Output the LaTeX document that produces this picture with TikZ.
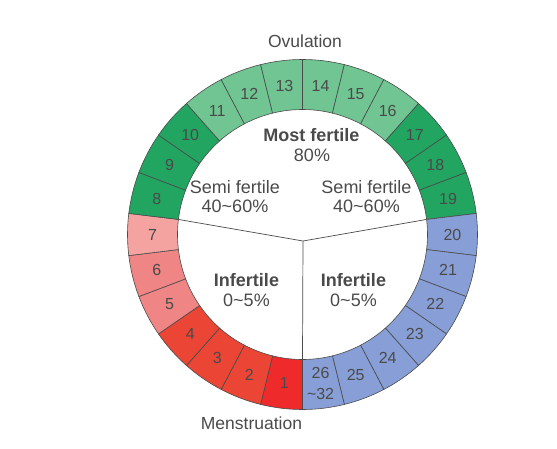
\documentclass[tikz,border=0pt]{standalone}
\usepackage{fontspec}
\setmainfont{Liberation Sans}
\usetikzlibrary{positioning}

\definecolor{redday}{HTML}{EE2A2A}
\definecolor{redmen}{HTML}{EA4535}
\definecolor{pinkA}{HTML}{F08585}
\definecolor{pinkB}{HTML}{F5A3A0}
\definecolor{greendark}{HTML}{22A560}
\definecolor{greenlight}{HTML}{70C592}
\definecolor{blueday}{HTML}{879FD6}
\definecolor{ringline}{HTML}{4A4A4A}
\definecolor{textgray}{HTML}{4A4A4A}

\tikzset{
  daynum/.style={text=textgray, font=\fontsize{16}{16}\selectfont, align=center, inner sep=0pt},
  zonelabel/.style={text=textgray, font=\fontsize{18}{20}\selectfont, align=center, inner sep=0pt},
  zonebold/.style={zonelabel, font=\fontsize{18}{20}\selectfont\bfseries},
  outerlabel/.style={zonelabel, font=\fontsize{17.5}{20}\selectfont},
  divider/.style={ringline, line width=0.7pt}
}

\begin{document}
\begin{tikzpicture}[x=1pt,y=1pt]
  \useasboundingbox (-302.5,-213.5) rectangle (254.5,234.5);

  % Ring of days
  \foreach \n/\col in {1/redday,2/redmen,3/redmen,4/redmen,5/pinkA,6/pinkA,7/pinkB,
      8/greendark,9/greendark,10/greendark,11/greenlight,12/greenlight,13/greenlight,
      14/greenlight,15/greenlight,16/greenlight,17/greendark,18/greendark,19/greendark,
      20/blueday,21/blueday,22/blueday,23/blueday,24/blueday,25/blueday,26/blueday} {
    \pgfmathsetmacro{\a}{-90-(\n-1)*360/26}
    \pgfmathsetmacro{\b}{\a-360/26}
    \filldraw[fill=\col, draw=ringline, line width=0.6pt]
      (\a:175) arc[start angle=\a, end angle=\b, radius=175]
      -- (\b:125) arc[start angle=\b, end angle=\a, radius=125] -- cycle;
  }

  % Day numbers
  \foreach \n in {1,...,25} {
    \pgfmathsetmacro{\m}{-90-(\n-0.5)*360/26}
    \node[daynum] (day\n) at (\m:150) {\n};
  }
  \node[daynum, font=\fontsize{16}{21}\selectfont] (day26) at ({-90-25.5*360/26}:150) {26\\\textasciitilde32};

  % Dividers
  \coordinate (hub) at (0.5,-6.5);
  \coordinate (leftend) at ({-90-7*360/26}:125);
  \coordinate (rightend) at ({-90-19*360/26}:125);
  \coordinate (bottomend) at (-90:125);
  \draw[divider] (leftend) -- (hub) -- (rightend);
  \draw[divider] (hub) -- (bottomend);

  % Zone labels
  \node[zonebold] (most) at (9,99.5) {Most fertile};
  \node[zonelabel] (mostpct) at (9.5,79.5) {80\%};
  \node[zonelabel] (semiL) at (-67.5,47.8) {Semi fertile};
  \node[zonelabel] (semiLpct) at (-67.5,27.8) {40\textasciitilde60\%};
  \node[zonelabel] (semiR) at (64,47.8) {Semi fertile};
  \node[zonelabel] (semiRpct) at (64,27.8) {40\textasciitilde60\%};
  \node[zonebold] (infL) at (-56,-45.5) {Infertile};
  \node[zonelabel] (infLpct) at (-56,-66) {0\textasciitilde5\%};
  \node[zonebold] (infR) at (51,-45.5) {Infertile};
  \node[zonelabel] (infRpct) at (51,-66) {0\textasciitilde5\%};

  % Outer labels
  \node[outerlabel] (ovulation) at (2.5,193) {Ovulation};
  \node[outerlabel] (menstruation) at (-51,-188.5) {Menstruation};
\end{tikzpicture}
\end{document}
